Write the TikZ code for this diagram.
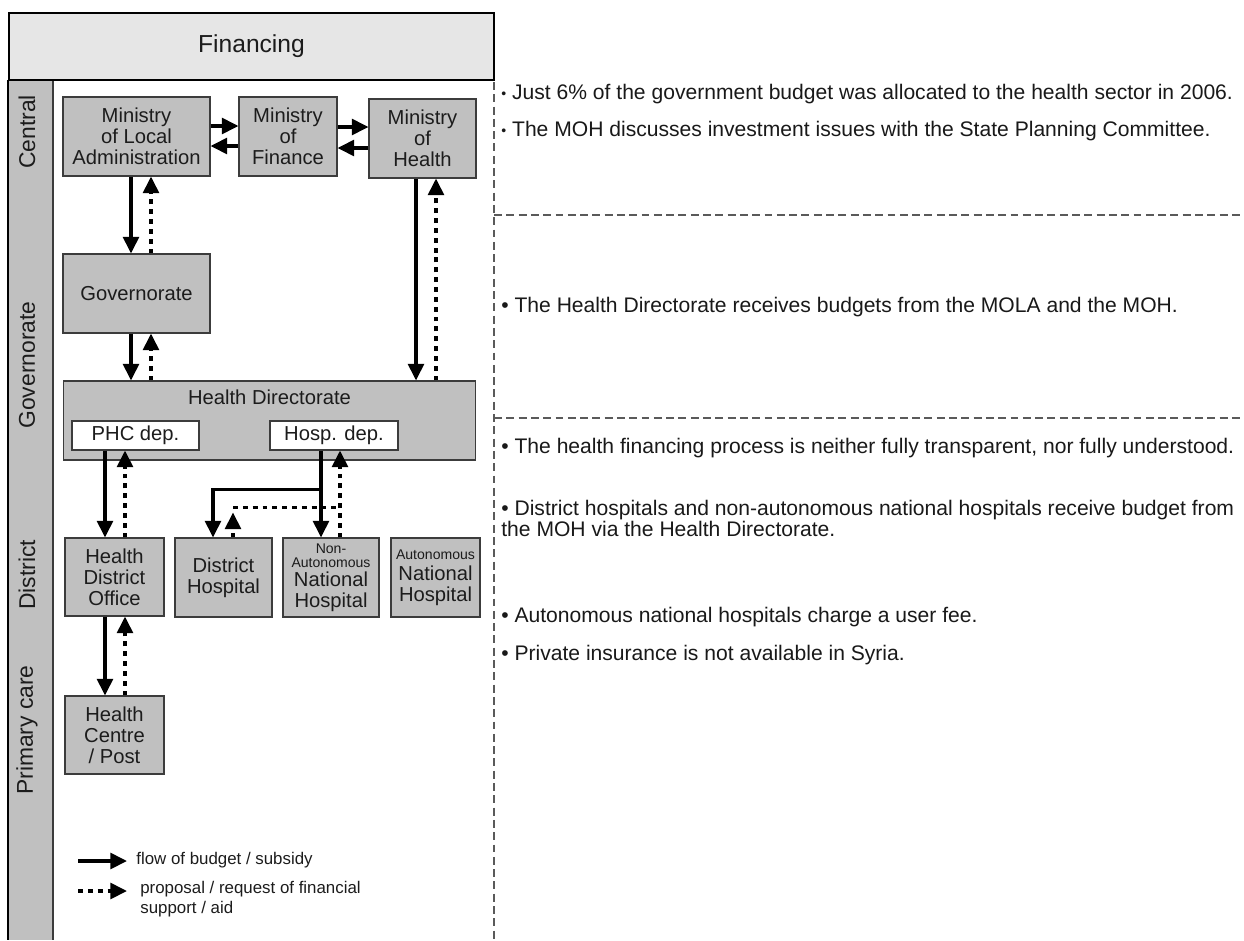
\documentclass[tikz,border=0pt]{standalone}
\usepackage{xcolor}
\usepackage{fontspec}
\setmainfont{Liberation Sans}
\usepackage{tikz}
\usetikzlibrary{calc,positioning,arrows.meta}

\definecolor{boxgray}{RGB}{192,192,192}
\definecolor{headgray}{RGB}{230,230,230}
\definecolor{edgegray}{RGB}{60,60,60}
\definecolor{inkgray}{RGB}{28,28,28}
\definecolor{sepgray}{RGB}{90,90,90}

\newcommand{\autofont}{\fontsize{8}{9}\selectfont}
\newcommand{\smallbul}{{\fontsize{8}{8}\selectfont\raisebox{0.5pt}{•}}}

\tikzset{
  headbox/.style={draw=black, line width=1.5pt, fill=headgray, inner sep=0pt,
    font=\fontsize{14}{16}\selectfont, text=inkgray},
  levelname/.style={rotate=90, inner sep=0pt, font=\fontsize{13}{15}\selectfont, text=inkgray},
  unit/.style={draw=edgegray, fill=boxgray, line width=0.6pt, text=inkgray,
    align=center, inner sep=0pt, font=\fontsize{11.5}{12}\selectfont},
  dept/.style={unit, fill=white},
  flow/.style={line width=2pt, -{Triangle[length=9.5pt,width=9pt]}},
  request/.style={line width=2pt, dash pattern=on 2.8pt off 2.8pt, -{Triangle[length=9.5pt,width=9pt]}},
  dotline/.style={line width=2pt, dash pattern=on 2.8pt off 2.8pt},
  sepline/.style={draw=sepgray, line width=0.6pt, dash pattern=on 4.5pt off 2.5pt},
  note/.style={anchor=west, inner sep=0pt, align=left, font=\fontsize{12}{12}\selectfont, text=black!90},
  legendtext/.style={inner sep=0pt, align=left, font=\fontsize{9.6}{11.3}\selectfont, text=inkgray}
}

\begin{document}
\begin{tikzpicture}[x=0.02cm,y=-0.02cm]
\useasboundingbox (0,0) rectangle (1244,940);

%Level stripe
\fill[boxgray] (8,80) rectangle (53,940);
\draw[line width=1.2pt] (8,80) -- (8,940);
\draw[edgegray, line width=0.6pt] (53,80) -- (53,940);
\node[levelname] (lvcentral) at (27,132) {Central};
\node[levelname] (lvgov) at (27,365) {Governorate};
\node[levelname] (lvdistrict) at (27,575) {District};
\node[levelname] (lvprimary) at (27,730) {Primary care};

%Header
\node[headbox, minimum width=9.7cm, minimum height=1.34cm] (fin) at (251.5,46.5) {Financing};

%Separators
\draw[sepline] (494,82) -- (494,940);
\draw[sepline] (494,215) -- (1244,215);
\draw[sepline] (494,418) -- (1244,418);

%Central level
\node[unit, minimum width=2.94cm, minimum height=1.58cm] (mola) at (136.5,136.5) {Ministry\\of Local\\Administration};
\node[unit, minimum width=1.96cm, minimum height=1.58cm] (mof) at (288,136.5) {Ministry\\of\\Finance};
\node[unit, minimum width=2.14cm, minimum height=1.58cm] (moh) at (422.5,138.5) {Ministry\\of\\Health};

%Governorate level
\node[unit, minimum width=2.94cm, minimum height=1.58cm] (gov) at (136.5,293.5) {Governorate};
\node[unit, minimum width=8.26cm, minimum height=1.58cm] (hdir) at (269.5,420.5) {};
\node[unit, draw=none, fill=none] (hdirname) at ($(hdir.north)+(0,17)$) {Health Directorate};
\node[dept, minimum width=2.54cm, minimum height=0.58cm] (phc) at (135.5,435.5) {PHC dep.};
\node[dept, minimum width=2.56cm, minimum height=0.58cm] (hosp) at (334,435.5) {Hosp. dep.};

%District level
\node[unit, minimum width=1.98cm, minimum height=1.56cm] (hdo) at (114.5,577) {Health\\District\\Office};
\node[unit, minimum width=1.94cm, minimum height=1.58cm] (dh) at (223.5,577.5) {District\\Hospital};
\node[unit, minimum width=1.92cm, minimum height=1.58cm] (nanh) at (331,577.5) {{\autofont Non-}\\[-3.5pt]{\autofont Autonomous}\\[-1.5pt]National\\Hospital};
\node[unit, minimum width=1.78cm, minimum height=1.58cm] (anh) at (435.5,577.5) {{\autofont Autonomous}\\National\\Hospital};

%Primary care level
\node[unit, minimum width=1.98cm, minimum height=1.56cm] (hc) at (114.5,735) {Health\\Centre\\/ Post};

%Flows between ministries
\draw[flow] ($(mola.east)+(0,-10.5)$) -- ($(mof.west)+(0,-10.5)$);
\draw[flow] ($(mof.west)+(0,9.5)$) -- ($(mola.east)+(0,9.5)$);
\draw[flow] ($(mof.east)+(0,-9.5)$) -- ($(moh.west)+(0,-11.5)$);
\draw[flow] ($(moh.west)+(0,9.5)$) -- ($(mof.east)+(0,11.5)$);

%Central to governorate
\coordinate (m1) at ($(mola.south)+(-5.5,0)$);
\coordinate (m2) at ($(mola.south)+(14.5,0)$);
\draw[flow] (m1) -- (m1 |- gov.north);
\draw[request] (m2 |- gov.north) -- (m2);
\coordinate (g1) at ($(gov.south)+(-5.5,0)$);
\coordinate (g2) at ($(gov.south)+(14.5,0)$);
\draw[flow] (g1) -- (g1 |- hdir.north);
\draw[request] (g2 |- hdir.north) -- (g2);
\coordinate (k1) at ($(moh.south)+(-6.5,0)$);
\coordinate (k2) at ($(moh.south)+(13.5,0)$);
\draw[flow] (k1) -- (k1 |- hdir.north);
\draw[request] (k2 |- hdir.north) -- (k2);

%Departments to district
\coordinate (p1) at ($(phc.south)+(-30.5,0)$);
\coordinate (p2) at ($(phc.south)+(-10.5,0)$);
\draw[flow] (p1) -- (p1 |- hdo.north);
\draw[request] (p2 |- hdo.north) -- (p2);
\coordinate (h1) at ($(hosp.south)+(-13,0)$);
\coordinate (h2) at ($(hosp.south)+(6,0)$);
\coordinate (split) at ($(h1)+(0,39)$);
\draw[flow] (h1) -- (h1 |- nanh.north);
\draw[flow] (split) -| ($(dh.north)+(-10.5,0)$);
\draw[request] (h2 |- nanh.north) -- (h2);
\coordinate (d2) at ($(dh.north)+(9.5,0)$);
\draw[request] (d2) -- ($(d2)+(0,-25)$);
\draw[dotline] ($(d2)+(0,-30)$) -- ($(h2 |- d2)+(0,-30)$);

%District to primary care
\coordinate (o1) at ($(hdo.south)+(-9.5,0)$);
\coordinate (o2) at ($(hdo.south)+(10.5,0)$);
\draw[flow] (o1) -- (o1 |- hc.north);
\draw[request] (o2 |- hc.north) -- (o2);

%Legend
\node[legendtext, anchor=west] (lgflow) at (136,860) {flow of budget / subsidy};
\node[legendtext, anchor=north west] (lgreq) at (140,881) {proposal / request of financial\\support / aid};
\coordinate (lgflowstart) at (78,861);
\coordinate (lgreqstart) at (78,891);
\draw[flow] (lgflowstart) -- ($(lgflowstart -| lgflow.west)+(-9,0)$);
\draw[request] (lgreqstart) -- ($(lgreqstart -| lgflow.west)+(-9,0)$);

%Notes
\node[note] (note1) at (501,94) {\smallbul\ Just 6\% of the government budget was allocated to the health sector in 2006.};
\node[note] (note2) at (501,131) {\smallbul\ The MOH discusses investment issues with the State Planning Committee.};
\node[note] (note3) at (501,307) {• The Health Directorate receives budgets from the MOLA and the MOH.};
\node[note] (note4) at (501,448) {• The health financing process is neither fully transparent, nor fully understood.};
\node[note] (note5) at (501,518) {• District hospitals and non-autonomous national hospitals receive budget from\\the MOH via the Health Directorate.};
\node[note] (note6) at (501,617) {• Autonomous national hospitals charge a user fee.};
\node[note] (note7) at (501,655) {• Private insurance is not available in Syria.};

\end{tikzpicture}
\end{document}
